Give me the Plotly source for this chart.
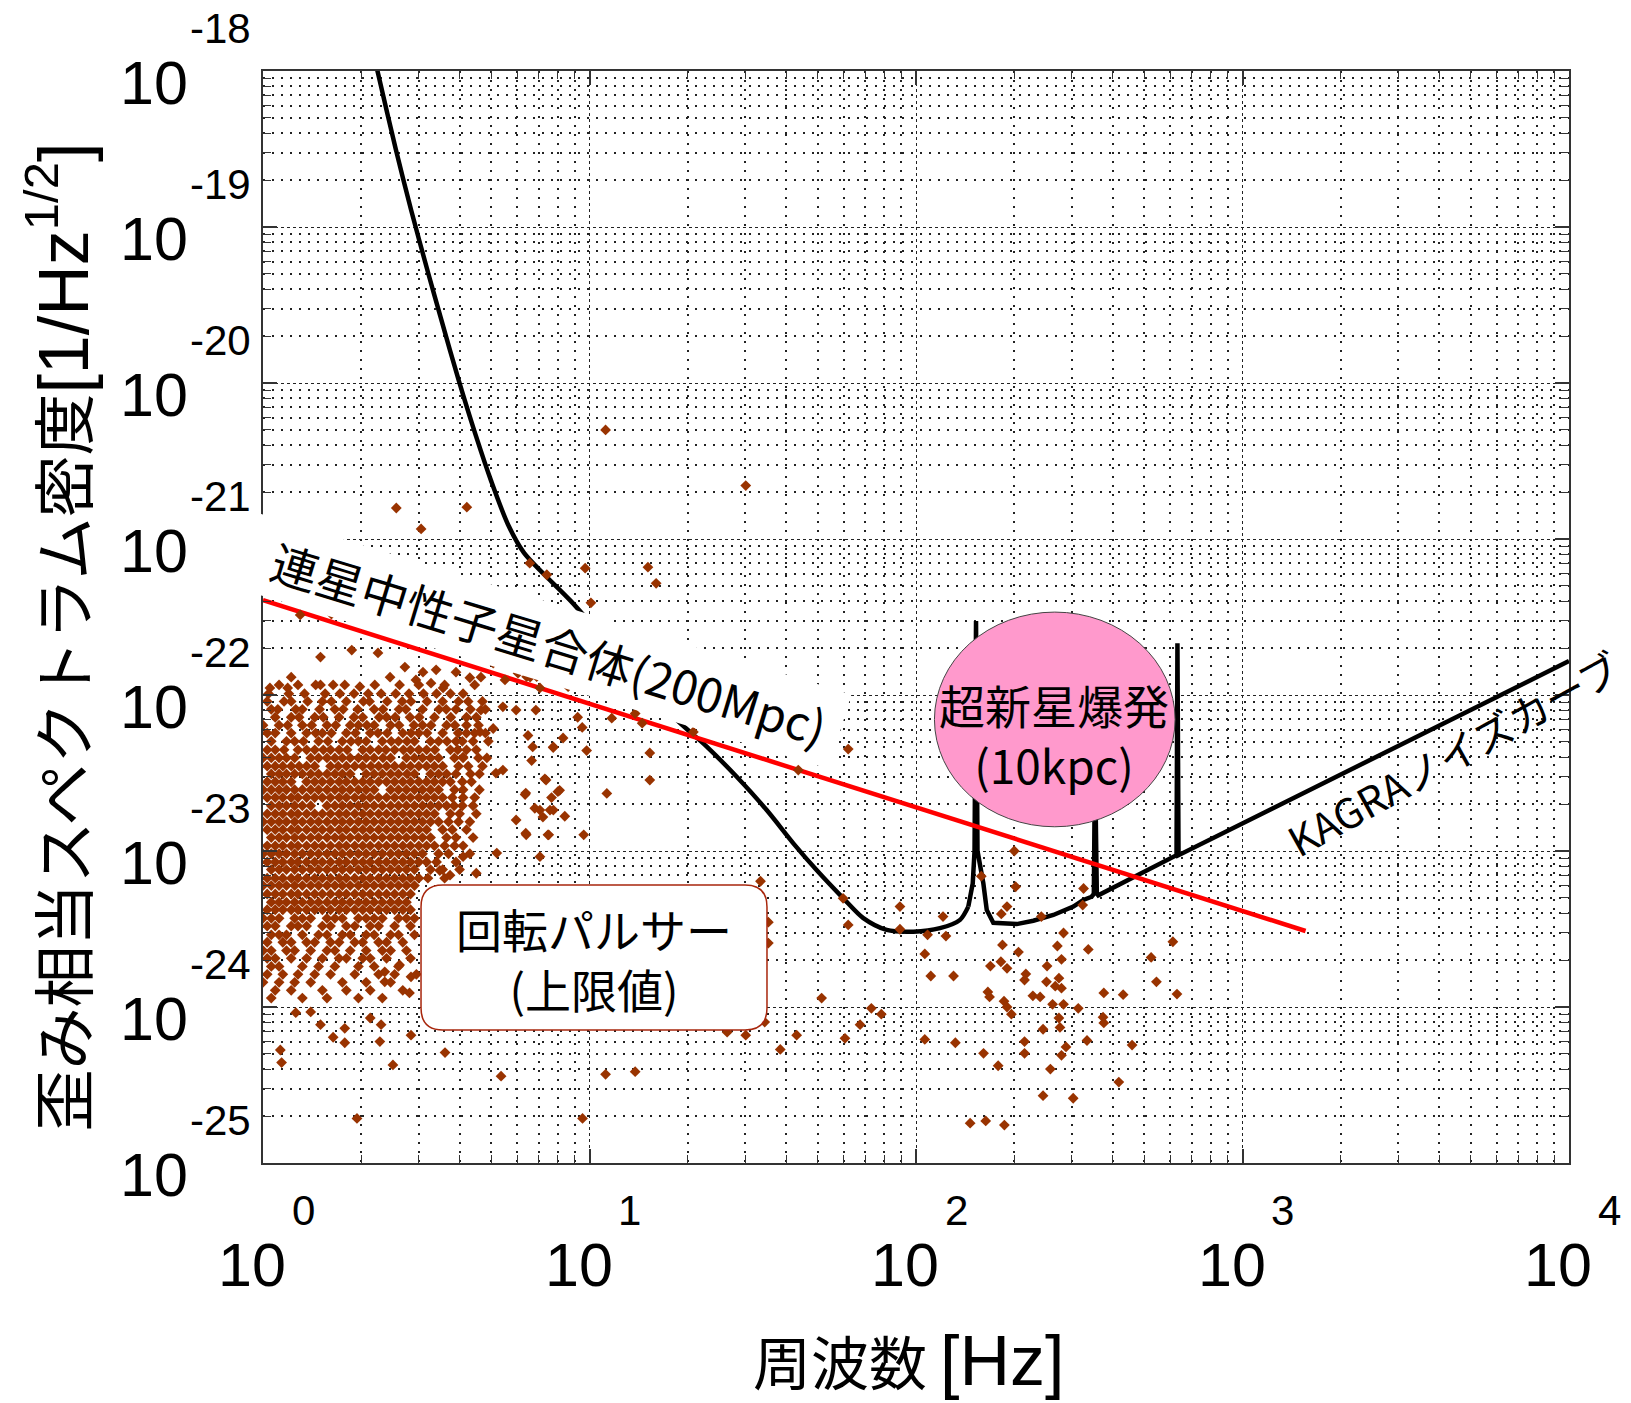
import math
import plotly.graph_objects as go

CJK = "Noto Sans CJK JP"
LATIN = "Liberation Sans, Arial, sans-serif"

# ---------------- KAGRA noise curve (strain ASD) ----------------
kagra_freq = [2.15, 2.255, 2.551, 2.842, 3.213, 3.497, 3.987, 4.479, 5.0, 5.628, 6.302, 7.255, 8.758,
              18.06, 22.86, 28.24, 34.88, 42.1, 49.6, 59.9, 68.97, 81.3, 98.1, 118.4, 136.4, 144.6,
              149.2, 151.1, 152.7, 154.3, 160.8, 164.7, 172.5, 203.4, 228.7, 263.4, 303.3, 325.5,
              345.2, 350.5, 353.3, 358.0, 361.6, 628.0, 632.0, 637.0, 10000.0]
kagra_strain = [1.45e-18, 9.5e-19, 3.15e-19, 1.285e-19, 4.98e-20, 2.65e-20, 1.02e-20, 4.65e-21, 2.35e-21,
                1.24e-21, 8.15e-22, 5.94e-22, 4.01e-22,
                7.26e-23, 4.67e-23, 2.99e-23, 1.83e-23, 1.12e-23, 7.55e-24, 4.97e-24, 3.71e-24, 3.12e-24,
                3.04e-24, 3.2e-24, 3.62e-24, 4.4e-24,
                6.2e-24, 1.0e-23, 2.98e-22, 1.0e-23, 6.2e-24, 4.19e-24, 3.47e-24, 3.4e-24, 3.57e-24,
                3.89e-24, 4.4e-24, 4.85e-24,
                5.09e-24, 5.3e-24, 3.8e-23, 5.35e-24, 5.2e-24, 9.4e-24, 2.15e-22, 9.4e-24, 1.65e-22]
SMOOTH_END = 25   # smooth part of the curve ends at 144.6 Hz, resonances follow

# ---------------- binary neutron star inspiral, 200 Mpc ----------------
bns_freq = [1.0, 1560.0]
bns_strain = [4.06e-22, 3.07e-24]

# ---------------- supernova (10 kpc) region ----------------
supernova_freq = [113.9, 621.6]
supernova_strain = [1.43e-23, 3.4e-22]

# ---------------- pulsar upper limits: isolated sources ----------------
pulsar_sparse = [
    (11.2, 5.0e-21), (30.1, 2.2e-21), (2.56, 1.58e-21), (4.21, 1.6e-21), (3.05, 1.16e-21),
    (6.56, 7.0e-22), (7.4, 5.9e-22), (9.7, 6.5e-22), (15.1, 6.6e-22), (16.0, 5.2e-22), (10.1, 3.9e-22),
    (1.30, 3.26e-22), (1.62, 3.3e-22),
    (1.50, 1.75e-22), (1.87, 1.94e-22), (2.25, 1.86e-22), (2.72, 1.51e-22), (3.09, 1.40e-22),
    (3.39, 1.45e-22), (3.90, 1.40e-22), (4.30, 1.29e-22), (4.65, 1.30e-22), (5.07, 1.60e-22),
    (5.51, 1.25e-22), (6.04, 1.38e-22), (6.58, 1.30e-22), (7.05, 1.11e-22), (1.22, 1.30e-22),
    (1.05, 1.11e-22), (1.19, 1.11e-22), (1.50, 1.16e-22), (1.64, 1.16e-22), (1.98, 1.13e-22),
    (2.45, 1.30e-22), (2.94, 1.25e-22), (3.27, 1.19e-22), (3.56, 1.11e-22),
    (6.42, 1.31e-22), (6.89, 1.31e-22), (8.6, 1.13e-22), (9.2, 7.2e-23), (9.5, 6.2e-23),
    (9.8, 4.4e-23), (8.3, 5.3e-23), (6.7, 4.65e-23), (7.75, 4.65e-23), (6.65, 3.8e-23),
    (7.3, 2.9e-23), (7.65, 2.2e-23), (8.1, 2.45e-23), (6.35, 2.3e-23), (6.8, 1.88e-23),
    (7.2, 1.65e-23), (7.75, 1.83e-23), (8.4, 1.67e-23), (6.4, 1.27e-23), (7.5, 1.27e-23),
    (9.6, 1.27e-23), (11.7, 7.1e-23), (13.8, 7.6e-23), (14.5, 6.6e-23), (20.8, 5.8e-23),
    (43.6, 3.3e-23), (62.0, 4.5e-23), (15.3, 4.25e-23), (15.3, 2.85e-23), (11.3, 2.34e-23),
    (4.65, 8.0e-23), (5.43, 8.4e-23), (5.96, 8.0e-23), (6.85, 8.0e-23), (6.48, 5.5e-23),
    (7.74, 4.6e-23), (5.07, 6.1e-23), (4.62, 5.8e-23), (4.10, 4.0e-23), (5.17, 3.16e-23),
    (5.43, 3.3e-23), (6.38, 2.35e-23), (7.36, 2.85e-23), (8.0, 2.4e-23), (7.57, 1.83e-23),
    (7.05, 1.83e-23), (5.96, 1.58e-23), (6.38, 1.30e-23), (7.46, 1.27e-23),
    (4.1, 9.2e-24), (4.5, 7.2e-24), (5.2, 9.7e-24), (7.05, 9.2e-24), (3.48, 7.5e-24), (3.74, 7.0e-24),
    (2.84, 1.56e-24), (2.62, 1.86e-24), (2.81, 1.23e-24), (2.36, 1.68e-24), (2.36, 1.45e-24),
    (1.26, 9.2e-25), (1.40, 9.3e-25), (1.50, 7.7e-25), (1.64, 6.4e-25), (1.78, 7.3e-25),
    (1.78, 5.9e-25), (2.13, 8.5e-25), (2.30, 7.7e-25), (2.28, 6.0e-25), (2.84, 6.6e-25),
    (1.13, 5.3e-25), (1.14, 4.4e-25), (2.50, 4.25e-25), (3.61, 5.1e-25), (5.36, 3.6e-25),
    (1.94, 1.93e-25), (9.52, 1.93e-25), (11.2, 3.7e-25), (13.8, 3.85e-25),
    (33.4, 6.4e-24), (35.3, 3.5e-24), (35.3, 2.57e-24), (34.4, 8.0e-25), (26.4, 6.9e-25),
    (30.1, 6.6e-25), (38.4, 5.35e-25), (43.1, 6.6e-25), (51.4, 1.14e-24), (59.8, 4.97e-24),
    (62.0, 3.36e-24), (73.0, 9.8e-25), (78.3, 9.0e-25), (67.4, 7.7e-25), (60.6, 6.3e-25),
    (89.3, 4.4e-24), (89.3, 3.15e-24), (121.0, 3.8e-24), (108.5, 2.9e-24), (123.5, 2.85e-24),
    (106.4, 2.19e-24), (111.0, 1.58e-24), (130.3, 1.58e-24), (106.4, 6.2e-25), (132.0, 5.9e-25),
    (161.0, 5.05e-25), (178.5, 4.2e-25), (146.5, 1.8e-25), (163.5, 1.86e-25), (186.5, 1.75e-25),
    (158.5, 6.9e-24), (202.0, 5.9e-24), (190.0, 4.4e-24), (182.5, 3.95e-24), (242.0, 3.8e-24),
    (326.0, 5.75e-24), (324.0, 4.5e-24), (184.0, 2.5e-24), (206.0, 2.25e-24), (169.0, 1.83e-24),
    (182.0, 1.95e-24), (190.0, 1.77e-24), (166.0, 1.25e-24), (168.0, 1.16e-24), (186.0, 1.09e-24),
    (190.0, 1.0e-24), (196.0, 9.0e-25), (217.0, 1.63e-24), (215.0, 1.49e-24), (228.0, 1.18e-24),
    (240.0, 1.16e-24), (252.0, 1.83e-24), (271.0, 2.46e-24), (283.0, 2.98e-24), (279.0, 2.02e-24),
    (251.0, 1.45e-24), (267.0, 1.36e-24), (274.0, 1.53e-24), (279.0, 1.32e-24), (262.0, 1.04e-24),
    (283.0, 1.04e-24), (314.0, 9.8e-25), (274.0, 8.5e-25), (276.0, 7.4e-25), (245.0, 7.2e-25),
    (376.0, 1.23e-24), (431.0, 1.2e-24), (337.0, 2.34e-24), (374.0, 8.6e-25), (376.0, 7.9e-25),
    (334.0, 6.1e-25), (288.0, 5.55e-25), (279.0, 4.9e-25), (215.0, 6.0e-25), (215.0, 5.05e-25),
    (258.0, 4.0e-25), (245.0, 2.7e-25), (303.0, 2.6e-25), (418.0, 3.3e-25), (459.0, 5.7e-25),
    (525.0, 2.08e-24), (545.0, 1.45e-24), (612.0, 2.62e-24), (630.0, 1.21e-24), (200.0, 1.0e-23),
]

# ---------------- pulsar upper limits: dense low-frequency group ----------------
# each row: (strain, [frequencies in Hz])
pulsar_rows = [
    (1.16e-22, [1.12, 1.28, 1.45, 1.78, 2.2, 2.62, 3.0, 3.6, 4.45]),
    (1.02e-22, [1.04, 1.2, 1.34, 1.55, 1.72, 1.9, 2.1, 2.3, 2.55, 2.8, 3.1, 3.4, 3.75, 4.1]),
    (9.1e-23, [1.03, 1.16, 1.22, 1.37, 1.52, 1.62, 1.80, 2.03, 2.12, 2.40, 2.67, 2.84, 3.18, 3.55, 3.97, 4.25, 4.7]),
    (8.1e-23, [1.06, 1.11, 1.26, 1.32, 1.49, 1.66, 1.76, 1.95, 2.19, 2.33, 2.61, 2.74, 3.08, 3.46, 3.64, 3.9, 4.32, 4.8]),
    (7.2e-23, [1.09, 1.22, 1.29, 1.44, 1.53, 1.71, 1.90, 2.02, 2.27, 2.39, 2.54, 2.82, 3.01, 3.35, 3.76, 4.20, 4.5]),
    (6.4e-23, [1.00, 1.12, 1.19, 1.32, 1.41, 1.57, 1.67, 1.85, 1.96, 2.08, 2.19, 2.46, 2.61, 2.90, 3.08, 3.27, 3.65, 3.87, 4.2, 4.57]),
    (5.7e-23, [1.03, 1.09, 1.22, 1.36, 1.45, 1.52, 1.62, 1.80, 1.92, 2.13, 2.25, 2.40, 2.68, 2.84, 3.00, 3.18, 3.55, 3.96, 4.2, 4.45, 4.8]),
    (5.05e-23, [1.06, 1.18, 1.25, 1.33, 1.48, 1.58, 1.75, 1.86, 1.96, 2.07, 2.32, 2.47, 2.60, 2.76, 2.91, 3.26, 3.45, 3.66, 3.9, 4.08, 4.4, 4.9]),
    (4.45e-23, [1.03, 1.09, 1.16, 1.28, 1.36, 1.44, 1.53, 1.61, 1.71, 1.81, 2.02, 2.13, 2.26, 2.38, 2.53, 2.69, 2.83, 3.00, 3.17, 3.36, 3.75, 3.95, 4.20, 4.5]),
    (3.95e-23, [1.00, 1.06, 1.12, 1.18, 1.25, 1.40, 1.48, 1.57, 1.66, 1.75, 1.85, 1.96, 2.07, 2.19, 2.33, 2.46, 2.75, 2.91, 3.08, 3.26, 3.45, 3.86, 4.1, 4.57, 4.85]),
    (3.5e-23, [1.03, 1.09, 1.15, 1.22, 1.29, 1.36, 1.44, 1.61, 1.70, 1.80, 1.91, 2.02, 2.14, 2.26, 2.39, 2.53, 2.68, 2.83, 3.00, 3.17, 3.35, 3.55, 3.97, 4.25, 4.7]),
    (3.12e-23, [1.06, 1.12, 1.18, 1.25, 1.32, 1.40, 1.48, 1.57, 1.66, 1.75, 1.85, 2.07, 2.19, 2.32, 2.46, 2.60, 2.76, 2.91, 3.26, 3.45, 3.65, 3.9, 4.32, 4.6]),
    (2.78e-23, [1.03, 1.09, 1.15, 1.22, 1.36, 1.44, 1.52, 1.61, 1.71, 1.80, 1.91, 2.02, 2.13, 2.26, 2.39, 2.53, 2.68, 2.83, 3.00, 3.17, 3.35, 3.55, 3.75, 4.08, 4.35]),
    (2.47e-23, [1.00, 1.06, 1.12, 1.18, 1.25, 1.32, 1.40, 1.48, 1.57, 1.66, 1.75, 1.85, 1.96, 2.07, 2.19, 2.46, 2.60, 2.75, 2.91, 3.08, 3.26, 3.45, 3.86, 4.1, 4.6]),
    (2.2e-23, [1.03, 1.09, 1.15, 1.22, 1.28, 1.36, 1.44, 1.52, 1.61, 1.71, 1.80, 1.91, 2.02, 2.13, 2.26, 2.39, 2.53, 2.68, 2.83, 3.00, 3.17, 3.35, 3.55, 3.8, 4.1, 4.45]),
    (1.95e-23, [1.06, 1.12, 1.18, 1.25, 1.32, 1.40, 1.57, 1.66, 1.75, 1.85, 1.96, 2.07, 2.19, 2.32, 2.46, 2.60, 2.75, 2.91, 3.08, 3.26, 3.45, 3.65, 3.85, 4.08, 4.4]),
    (1.73e-23, [1.03, 1.09, 1.15, 1.22, 1.28, 1.36, 1.44, 1.52, 1.61, 1.71, 1.80, 1.91, 2.02, 2.13, 2.26, 2.39, 2.53, 2.68, 2.83, 3.00, 3.17, 3.35, 3.75, 4.0, 4.5]),
    (1.54e-23, [1.00, 1.06, 1.12, 1.18, 1.25, 1.32, 1.40, 1.48, 1.57, 1.66, 1.75, 1.85, 1.96, 2.07, 2.19, 2.32, 2.46, 2.60, 2.75, 2.91, 3.08, 3.26, 3.45, 3.7, 3.97, 4.3]),
    (1.37e-23, [1.03, 1.09, 1.15, 1.22, 1.28, 1.36, 1.44, 1.52, 1.61, 1.71, 1.80, 1.91, 2.02, 2.13, 2.26, 2.39, 2.53, 2.68, 2.83, 3.00, 3.17, 3.55, 3.8, 4.20]),
    (1.22e-23, [1.06, 1.12, 1.18, 1.25, 1.32, 1.40, 1.48, 1.57, 1.66, 1.75, 1.85, 1.96, 2.07, 2.19, 2.32, 2.46, 2.60, 2.75, 2.91, 3.08, 3.26, 3.65, 3.9, 4.4]),
    (1.08e-23, [1.03, 1.09, 1.15, 1.22, 1.28, 1.36, 1.44, 1.52, 1.61, 1.71, 1.80, 1.91, 2.02, 2.13, 2.26, 2.39, 2.53, 2.68, 2.83, 3.00, 3.17, 3.35, 3.6, 3.86, 4.1]),
    (9.6e-24, [1.00, 1.06, 1.12, 1.18, 1.25, 1.32, 1.40, 1.48, 1.57, 1.66, 1.75, 1.85, 1.96, 2.07, 2.19, 2.32, 2.46, 2.60, 2.75, 2.91, 3.08, 3.45, 3.7, 4.3]),
    (8.5e-24, [1.03, 1.09, 1.15, 1.22, 1.28, 1.36, 1.44, 1.52, 1.61, 1.71, 1.80, 1.91, 2.02, 2.13, 2.26, 2.39, 2.53, 2.68, 2.83, 3.00, 3.17, 3.4, 3.9]),
    (7.6e-24, [1.06, 1.12, 1.18, 1.25, 1.32, 1.40, 1.48, 1.57, 1.66, 1.75, 1.85, 1.96, 2.07, 2.19, 2.32, 2.46, 2.60, 2.75, 2.91, 3.26, 3.55, 4.0]),
    (6.7e-24, [1.03, 1.09, 1.15, 1.22, 1.28, 1.36, 1.44, 1.52, 1.61, 1.71, 1.80, 1.91, 2.02, 2.13, 2.26, 2.39, 2.53, 2.68, 2.83, 3.00, 3.2, 3.6]),
    (6.0e-24, [1.00, 1.06, 1.12, 1.18, 1.25, 1.32, 1.40, 1.48, 1.57, 1.66, 1.75, 1.85, 1.96, 2.07, 2.19, 2.32, 2.46, 2.60, 2.75, 2.91]),
    (5.3e-24, [1.03, 1.09, 1.15, 1.22, 1.28, 1.36, 1.44, 1.52, 1.61, 1.71, 1.80, 1.91, 2.02, 2.13, 2.26, 2.39, 2.53, 2.68, 2.83]),
    (4.7e-24, [1.06, 1.12, 1.18, 1.25, 1.32, 1.40, 1.48, 1.57, 1.66, 1.75, 1.85, 1.96, 2.07, 2.19, 2.32, 2.46, 2.60, 2.75]),
    (4.2e-24, [1.03, 1.09, 1.15, 1.22, 1.28, 1.36, 1.44, 1.52, 1.61, 1.71, 1.80, 1.91, 2.02, 2.13, 2.26, 2.39, 2.53, 2.68, 2.83]),
    (3.7e-24, [1.00, 1.06, 1.12, 1.25, 1.32, 1.40, 1.57, 1.66, 1.75, 1.96, 2.07, 2.19, 2.32, 2.60, 2.75, 2.91]),
    (3.3e-24, [1.03, 1.09, 1.22, 1.28, 1.36, 1.52, 1.61, 1.80, 1.91, 2.13, 2.26, 2.53, 2.83]),
    (2.9e-24, [1.06, 1.12, 1.18, 1.32, 1.48, 1.57, 1.75, 1.85, 2.07, 2.19, 2.46, 2.60, 2.91]),
    (2.6e-24, [1.03, 1.15, 1.22, 1.36, 1.44, 1.61, 1.71, 1.91, 2.02, 2.26, 2.39, 2.68]),
    (2.3e-24, [1.00, 1.06, 1.18, 1.25, 1.40, 1.57, 1.66, 1.85, 2.07, 2.32, 2.46, 2.75]),
    (2.05e-24, [1.03, 1.09, 1.22, 1.36, 1.52, 1.71, 1.80, 2.02, 2.13, 2.39, 2.83]),
    (1.82e-24, [1.06, 1.12, 1.32, 1.48, 1.66, 1.96, 2.19, 2.60]),
    (1.62e-24, [1.03, 1.15, 1.28, 1.44, 1.61, 1.91, 2.26, 2.53, 2.95]),
    (1.44e-24, [1.00, 1.12, 1.25, 1.40, 1.75, 2.07, 2.46]),
    (1.28e-24, [1.09, 1.22, 1.52, 1.80, 2.13, 2.68]),
    (1.14e-24, [1.06, 1.32, 1.57, 1.96, 2.32]),
]

# ---------------- axis ticks ----------------
x_tick_values = [1, 10, 100, 1000, 10000]
y_tick_values = [1e-18, 1e-19, 1e-20, 1e-21, 1e-22, 1e-23, 1e-24, 1e-25]

# collect pulsar points
pulsar_f = [f for f, _ in pulsar_sparse]
pulsar_h = [h for _, h in pulsar_sparse]
for h, freqs in pulsar_rows:
    for f in freqs:
        pulsar_f.append(f)
        pulsar_h.append(h)

fig = go.Figure()

# smooth broadband part of the noise curve, then the part with resonances
fig.add_trace(go.Scatter(x=kagra_freq[:SMOOTH_END + 1], y=kagra_strain[:SMOOTH_END + 1], mode="lines",
                         line=dict(color="black", width=4.5, shape="spline", smoothing=0.8),
                         showlegend=False))
fig.add_trace(go.Scatter(x=kagra_freq[SMOOTH_END:], y=kagra_strain[SMOOTH_END:], mode="lines",
                         line=dict(color="black", width=4.5), showlegend=False))
fig.add_trace(go.Scatter(x=bns_freq, y=bns_strain, mode="lines",
                         line=dict(color="#ff0000", width=4.5), showlegend=False))
fig.add_trace(go.Scatter(x=pulsar_f, y=pulsar_h, mode="markers",
                         marker=dict(symbol="diamond", size=8.3, color="#993300", line=dict(width=0)),
                         showlegend=False))

grid_major = dict(showgrid=True, gridcolor="#222222", gridwidth=1, griddash="3px,3px")
minor_style = dict(dtick="D1", ticks="inside", ticklen=8, tickwidth=1.2, tickcolor="#333333",
                   showgrid=True, gridcolor="#222222", gridwidth=1.5, griddash="2px,7px")

fig.update_xaxes(type="log", range=[0, 4], tick0=0, dtick=1, ticks="inside", ticklen=14,
                 tickwidth=1.5, tickcolor="#333333", showline=True, linecolor="#333333",
                 linewidth=2, mirror="allticks", showticklabels=False, minor=minor_style, **grid_major)
fig.update_yaxes(type="log", range=[-25, -18], tick0=0, dtick=1, ticks="inside", ticklen=14,
                 tickwidth=1.5, tickcolor="#333333", showline=True, linecolor="#333333",
                 linewidth=2, mirror="allticks", showticklabels=False, minor=minor_style, **grid_major)


def label(**kw):
    kw.setdefault("showarrow", False)
    kw.setdefault("xanchor", "center")
    kw.setdefault("yanchor", "middle")
    fig.add_annotation(**kw)


# MATLAB-style "10^n" tick labels
for v in x_tick_values:
    lv = math.log10(v)
    label(x=lv, xref="x", y=0, yref="paper", text="10",
          font=dict(family=LATIN, size=61, color="black"), xshift=-11, yshift=-102)
    label(x=lv, xref="x", y=0, yref="paper", text=str(int(round(lv))),
          font=dict(family=LATIN, size=42, color="black"), xshift=40, yshift=-47)
for v in y_tick_values:
    lv = math.log10(v)
    label(x=0, xref="paper", y=lv, yref="y", text="10",
          font=dict(family=LATIN, size=61, color="black"), xanchor="right", xshift=-73, yshift=-12)
    label(x=0, xref="paper", y=lv, yref="y", text=str(int(round(lv))),
          font=dict(family=LATIN, size=42, color="black"), xanchor="left", xshift=-75, yshift=43)

# axis titles
label(xref="paper", yref="paper", x=0.4939, y=-0.1800,
      text='周波数 <span style="font-family:Liberation Sans, Arial;font-size:70px">[Hz]</span>',
      font=dict(family=CJK, size=58, color="black"))
label(xref="paper", yref="paper", x=-0.1551, y=0.4817, textangle=-90,
      text='歪み相当スペクトラム密度<span style="font-family:Liberation Sans, Arial;font-size:70px">[1/Hz<sup>1/2</sup>]</span>',
      font=dict(family=CJK, size=62, color="black"))

# supernova ellipse
fig.add_shape(type="circle", xref="x", yref="y",
              x0=supernova_freq[0], x1=supernova_freq[1],
              y0=supernova_strain[0], y1=supernova_strain[1],
              fillcolor="#FF99CC", line=dict(color="#444444", width=1), layer="above")
label(xref="paper", yref="paper", x=0.6057, y=0.3924, text="超新星爆発<br>(10kpc)",
      font=dict(family=CJK, size=46, color="black"))

# pulsar label box with rounded corners
bx0, bx1, by0, by1 = 0.1210, 0.3859, 0.1218, 0.2546
rx, ry = 0.0168, 0.0201
box_path = (f"M {bx0+rx},{by1} L {bx1-rx},{by1} Q {bx1},{by1} {bx1},{by1-ry} "
            f"L {bx1},{by0+ry} Q {bx1},{by0} {bx1-rx},{by0} "
            f"L {bx0+rx},{by0} Q {bx0},{by0} {bx0},{by0+ry} "
            f"L {bx0},{by1-ry} Q {bx0},{by1} {bx0+rx},{by1} Z")
fig.add_shape(type="path", xref="paper", yref="paper", path=box_path,
              fillcolor="white", line=dict(color="#A8260C", width=1.5), layer="above")
label(xref="paper", yref="paper", x=0.2534, y=0.1877, text="回転パルサー<br>(上限値)",
      font=dict(family=CJK, size=46, color="black"))

# inspiral label on a white band
label(xref="paper", yref="paper", x=0.2159, y=0.4776, textangle=17,
      text="\u00a0\u00a0連星中性子星合体(200Mpc)\u00a0", bgcolor="white", borderpad=4,
      font=dict(family=CJK, size=47, color="black"))

# noise curve label
label(xref="paper", yref="paper", x=0.9115, y=0.3760, textangle=-29,
      text="KAGRAノイズカーブ", font=dict(family=CJK, size=41, color="black"))

fig.update_layout(width=1631, height=1403, margin=dict(l=263, r=62, t=71, b=240),
                  paper_bgcolor="white", plot_bgcolor="white", showlegend=False)

fig.write_html("out.html")
